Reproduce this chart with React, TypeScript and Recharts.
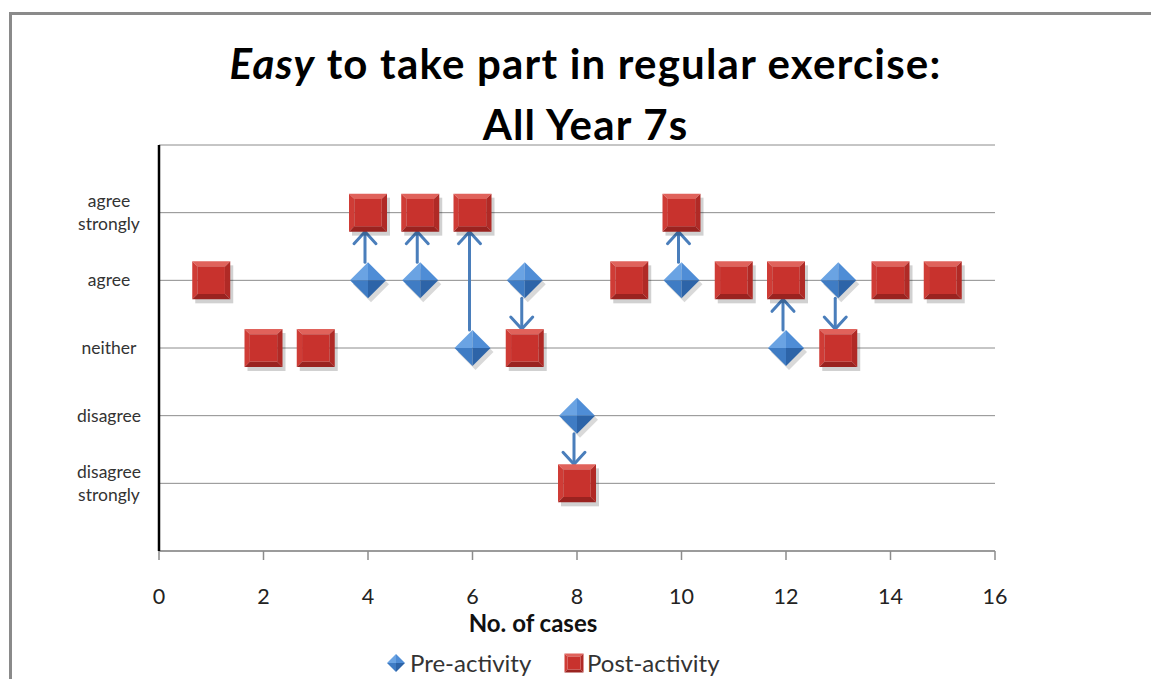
import React from 'react';
import {
  ScatterChart,
  Scatter,
  XAxis,
  YAxis,
  CartesianGrid,
  ReferenceLine,
} from 'recharts';

// cases before / after the activity, level on the 1..5 agree scale
const preCases = [4, 5, 6, 7, 8, 10, 12, 13];
const preLevels = [4, 4, 3, 4, 2, 4, 3, 4];
const postCases = [1, 2, 3, 4, 5, 6, 7, 8, 9, 10, 11, 12, 13, 14, 15];
const postLevels = [4, 3, 3, 5, 5, 5, 3, 1, 4, 5, 4, 4, 3, 4, 4];

const xTicks = [0, 2, 4, 6, 8, 10, 12, 14, 16];
const yTicks = [1, 2, 3, 4, 5, 6];
const yTickLabels: string[][] = [
  [],
  ['disagree', 'strongly'],
  ['disagree'],
  ['neither'],
  ['agree'],
  ['agree', 'strongly'],
  [],
];

const FONT = 'Lato, "Open Sans", sans-serif';
const BLUE = '#3f7cc4';
const RED = '#c8322d';
const ARROW = '#4a7ebb';

const preData = preCases.map((c, i) => ({ x: c, y: preLevels[i] }));
const postData = postCases.map((c, i) => ({ x: c, y: postLevels[i] }));
const moves = preCases.map((c, i) => ({
  x: c,
  from: preLevels[i],
  to: postLevels[postCases.indexOf(c)],
}));

const DIAMOND_R = 18;
const SQUARE_R = 19;

function Diamond({ cx, cy, r = DIAMOND_R, shadow = true }: any) {
  if (cx == null || cy == null) return null;
  const t = `${cx},${cy - r}`;
  const l = `${cx - r},${cy}`;
  const rt = `${cx + r},${cy}`;
  const b = `${cx},${cy + r}`;
  const c = `${cx},${cy}`;
  return (
    <g>
      {shadow && (
        <polygon
          points={`${cx + 3},${cy - r + 4} ${cx + r + 3},${cy + 4} ${cx + 3},${cy + r + 4} ${cx - r + 3},${cy + 4}`}
          fill="#000"
          opacity={0.15}
        />
      )}
      <polygon points={`${c} ${t} ${l}`} fill="#6aa3e3" />
      <polygon points={`${c} ${t} ${rt}`} fill="#4f8dd6" />
      <polygon points={`${c} ${l} ${b}`} fill={BLUE} />
      <polygon points={`${c} ${rt} ${b}`} fill="#2d64a8" />
    </g>
  );
}

function Square({ cx, cy, r = SQUARE_R, shadow = true }: any) {
  if (cx == null || cy == null) return null;
  const b = Math.max(3, r * 0.28);
  const x0 = cx - r;
  const y0 = cy - r;
  const x1 = cx + r;
  const y1 = cy + r;
  return (
    <g>
      {shadow && <rect x={x0 + 3} y={y0 + 4} width={2 * r} height={2 * r} fill="#000" opacity={0.18} />}
      <polygon points={`${x0},${y0} ${x1},${y0} ${x1 - b},${y0 + b} ${x0 + b},${y0 + b}`} fill="#e0625b" />
      <polygon points={`${x0},${y0} ${x0 + b},${y0 + b} ${x0 + b},${y1 - b} ${x0},${y1}`} fill="#cf3c36" />
      <polygon points={`${x1},${y0} ${x1},${y1} ${x1 - b},${y1 - b} ${x1 - b},${y0 + b}`} fill="#b02a26" />
      <polygon points={`${x0},${y1} ${x0 + b},${y1 - b} ${x1 - b},${y1 - b} ${x1},${y1}`} fill="#9a2320" />
      <rect x={x0 + b} y={y0 + b} width={2 * (r - b)} height={2 * (r - b)} fill={RED} />
    </g>
  );
}

function Arrow({ x1, y1, x2, y2 }: any) {
  if ([x1, y1, x2, y2].some(v => v == null || isNaN(v))) return null;
  const dir = y2 < y1 ? -1 : 1;
  const sy = y1 + dir * DIAMOND_R;
  const ey = y2 - dir * SQUARE_R;
  const head = 12;
  return (
    <g stroke={ARROW} strokeWidth={3} fill="none" strokeLinecap="round">
      <line x1={x1 - 3} y1={sy} x2={x2 - 3} y2={ey} />
      <polyline points={`${x2 - 3 - 11},${ey - dir * head} ${x2 - 3},${ey} ${x2 - 3 + 11},${ey - dir * head}`} />
    </g>
  );
}

function YTick({ x, y, payload }: any) {
  const lines = yTickLabels[payload.value] || [];
  const lh = 23;
  const top = y - ((lines.length - 1) * lh) / 2;
  return (
    <text x={x - 50} y={top} textAnchor="middle" fontSize={17.5} fill="#333" fontFamily={FONT}>
      {lines.map((s, i) => (
        <tspan key={i} x={x - 50} y={top + i * lh} dy="0.35em">
          {s}
        </tspan>
      ))}
    </text>
  );
}

export default function App() {
  return (
    <div
      style={{
        position: 'absolute',
        left: 0,
        top: 0,
        width: 1151,
        height: 679,
        overflow: 'hidden',
        background: '#fff',
        fontFamily: FONT,
      }}
    >
      <div
        style={{
          position: 'absolute',
          left: 9,
          top: 12,
          width: 1200,
          height: 700,
          borderTop: '3px solid #8a8a8a',
          borderLeft: '3px solid #8a8a8a',
        }}
      />
      <div
        style={{
          position: 'absolute',
          left: 0,
          width: 1171,
          top: 33,
          textAlign: 'center',
          fontSize: 42,
          letterSpacing: 1.2,
          fontWeight: 700,
          lineHeight: '61px',
          color: '#000',
        }}
      >
        <div>
          <i>Easy</i> to take part in regular exercise:
        </div>
        <div>All Year 7s</div>
      </div>

      <div style={{ position: 'absolute', left: 0, top: 0 }}>
        <ScatterChart width={1151} height={679} margin={{ top: 145, right: 156, bottom: 68, left: 0 }}>
          <CartesianGrid horizontal vertical={false} stroke="#8c8c8c" strokeWidth={1} />
          <XAxis
            type="number"
            dataKey="x"
            domain={[0, 16]}
            ticks={xTicks}
            interval={0}
            height={60}
            axisLine={{ stroke: '#8c8c8c', strokeWidth: 1.5 }}
            tickLine={{ stroke: '#8c8c8c', strokeWidth: 1.5 }}
            tickSize={9}
            tickMargin={29}
            tick={{ fontSize: 21.5, fill: '#222', fontFamily: FONT }}
          />
          <YAxis
            type="number"
            dataKey="y"
            domain={[0, 6]}
            ticks={yTicks}
            interval={0}
            width={159}
            axisLine={{ stroke: '#000', strokeWidth: 2.5 }}
            tickLine={false}
            tickSize={0}
            tickMargin={0}
            tick={<YTick />}
          />
          {moves.map(m => (
            <ReferenceLine
              key={m.x}
              segment={[
                { x: m.x, y: m.from },
                { x: m.x, y: m.to },
              ]}
              shape={(p: any) => <Arrow {...p} />}
            />
          ))}
          <Scatter name="Pre-activity" data={preData} shape={(p: any) => <Diamond {...p} />} isAnimationActive={false} />
          <Scatter name="Post-activity" data={postData} shape={(p: any) => <Square {...p} />} isAnimationActive={false} />
        </ScatterChart>
      </div>

      <div
        style={{
          position: 'absolute',
          left: 0,
          width: 1066,
          top: 608,
          textAlign: 'center',
          fontSize: 24,
          fontWeight: 700,
          color: '#111',
        }}
      >
        No. of cases
      </div>

      <div style={{ position: 'absolute', left: 0, top: 647, fontSize: 24, color: '#333', lineHeight: '32px' }}>
        <svg width={22} height={24} style={{ position: 'absolute', left: 386, top: 4 }}>
          <Diamond cx={10} cy={12} r={9} shadow={false} />
        </svg>
        <span style={{ position: 'absolute', left: 410, whiteSpace: 'nowrap' }}>Pre-activity</span>
        <svg width={24} height={24} style={{ position: 'absolute', left: 563, top: 4 }}>
          <Square cx={11} cy={12} r={9.5} shadow={false} />
        </svg>
        <span style={{ position: 'absolute', left: 587, whiteSpace: 'nowrap' }}>Post-activity</span>
      </div>
    </div>
  );
}
